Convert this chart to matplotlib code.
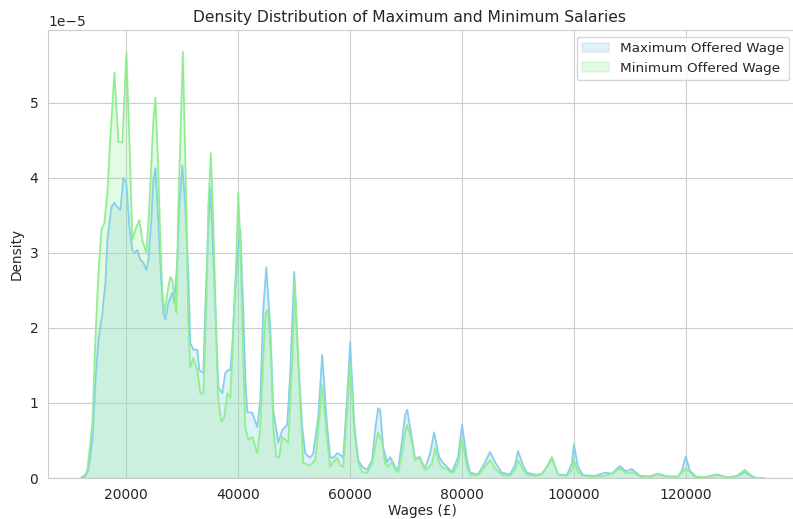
import matplotlib
matplotlib.use("Agg")
import matplotlib.pyplot as plt
import seaborn as sns
import numpy as np

# Estimated density curves (density in units of 1e-5)
max_wage = [12000, 12700, 13214, 13929, 14464, 15000, 15714, 16250, 16607, 17321,
            17857, 18393, 18929, 19464, 20000, 20536, 21071, 21429, 21964, 22500,
            23036, 23571, 23929, 24464, 24821, 25200, 25714, 26250, 26607, 26964,
            27500, 28214, 28571, 29107, 29464, 30000, 30536, 31071, 31429, 31964,
            32679, 33036, 33750, 34107, 34643, 35000, 35357, 35893, 36429, 37143,
            37679, 38214, 38571, 38929, 39286, 39821, 40357, 40893, 41250, 41607,
            42500, 43393, 43929, 44464, 45000, 45714, 46250, 47143, 47857, 48750,
            49286, 50000, 50714, 51429, 51964, 52857, 53393, 54286, 55000, 55893,
            56429, 56964, 57679, 58214, 58750, 59464, 60000, 60714, 61429, 62143,
            63036, 63929, 64464, 65000, 65357, 65893, 66607, 67143, 68036, 68571,
            69286, 69821, 70200, 71071, 71607, 72143, 72857, 73393, 74286, 75000,
            75893, 76607, 77321, 78214, 79286, 80000, 80893, 81429, 82857, 84107,
            85000, 85893, 87143, 88571, 89464, 90000, 90893, 91607, 93393, 94286,
            95179, 96071, 97143, 98750, 99643, 100000, 100714, 101607, 103750, 105536,
            106786, 108214, 109286, 110357, 111786, 113571, 115000, 116786, 118571, 119300,
            120000, 120700, 121800, 123393, 125536, 127500, 129107, 130536, 131786, 132679,
            134000]
max_density = [0.0, 0.03, 0.11, 0.51, 1.27, 1.84, 2.20, 2.60, 3.17, 3.61,
               3.67, 3.61, 3.57, 4.00, 3.93, 3.35, 3.04, 3.00, 3.04, 2.91,
               2.87, 2.77, 2.91, 3.44, 3.97, 4.13, 3.40, 2.60, 2.20, 2.11,
               2.33, 2.47, 2.33, 2.91, 3.61, 4.17, 3.61, 2.73, 1.80, 1.71,
               1.71, 1.44, 1.40, 2.28, 3.35, 3.87, 3.27, 2.28, 1.21, 1.13,
               1.40, 1.44, 1.44, 1.75, 2.28, 2.91, 3.31, 2.24, 1.35, 0.88,
               0.87, 0.68, 1.04, 2.24, 2.81, 2.01, 0.91, 0.47, 0.64, 0.71,
               1.40, 2.75, 1.57, 0.68, 0.33, 0.27, 0.33, 0.81, 1.64, 0.68,
               0.28, 0.27, 0.33, 0.31, 0.27, 1.08, 1.81, 0.73, 0.24, 0.15,
               0.11, 0.24, 0.64, 0.93, 0.91, 0.41, 0.21, 0.28, 0.15, 0.11,
               0.51, 0.84, 0.91, 0.51, 0.24, 0.28, 0.21, 0.13, 0.33, 0.61,
               0.28, 0.20, 0.15, 0.08, 0.28, 0.71, 0.24, 0.07, 0.05, 0.21,
               0.35, 0.21, 0.07, 0.05, 0.17, 0.36, 0.17, 0.07, 0.04, 0.06,
               0.15, 0.27, 0.05, 0.04, 0.20, 0.45, 0.15, 0.04, 0.03, 0.07,
               0.06, 0.16, 0.09, 0.12, 0.03, 0.02, 0.05, 0.02, 0.02, 0.10,
               0.29, 0.10, 0.02, 0.01, 0.05, 0.01, 0.02, 0.08, 0.02, 0.0,
               0.0]

min_wage = [11800, 12700, 13036, 13929, 14464, 15000, 15536, 16071, 16607, 17143,
            17857, 18571, 19286, 20000, 20536, 21071, 21607, 22321, 22857, 23571,
            24107, 24821, 25200, 25714, 26071, 26429, 26786, 27500, 27857, 28214,
            28929, 29286, 29821, 30100, 30714, 31071, 31429, 31964, 32679, 33214,
            33750, 34286, 34643, 35100, 35536, 36071, 36429, 36964, 37500, 38036,
            38571, 38929, 39107, 39643, 40000, 40357, 40893, 41250, 41786, 42500,
            43393, 43929, 44464, 44900, 45300, 45893, 46250, 46786, 47321, 47857,
            48393, 48929, 49643, 50100, 50714, 51429, 51607, 52857, 53750, 54286,
            55000, 55893, 56429, 56964, 57679, 58214, 58750, 59464, 60000, 60714,
            61429, 62143, 63036, 63929, 64464, 65000, 65714, 66250, 66786, 67500,
            68036, 68571, 69286, 69821, 70200, 71071, 71607, 72143, 72500, 72857,
            73393, 73929, 74643, 75200, 75893, 76607, 77321, 77857, 78393, 79286,
            80000, 80893, 81429, 82857, 84107, 85000, 85893, 87143, 88571, 89464,
            90000, 90893, 91607, 93393, 94286, 95179, 96071, 97143, 98750, 99643,
            100000, 100714, 101607, 103750, 105536, 106786, 108214, 109286, 110357, 111786,
            113571, 115000, 116786, 118571, 120000, 121500, 123393, 125536, 127500, 129107,
            130536, 131786, 132679, 134000]
min_density = [0.0, 0.05, 0.11, 0.73, 1.84, 2.73, 3.31, 3.40, 3.80, 4.55,
               5.40, 4.48, 4.47, 5.67, 4.51, 3.17, 3.31, 3.44, 3.17, 3.00,
               3.61, 4.77, 5.07, 4.07, 3.17, 2.47, 2.20, 2.55, 2.68, 2.64,
               2.20, 3.61, 4.95, 5.68, 3.61, 2.07, 1.47, 1.60, 1.44, 1.13,
               1.13, 2.28, 3.61, 4.33, 3.40, 1.84, 1.04, 0.75, 0.81, 1.13,
               1.07, 1.61, 2.01, 2.91, 3.80, 3.13, 1.57, 0.68, 0.51, 0.55,
               0.33, 0.68, 1.57, 2.20, 2.24, 1.57, 0.68, 0.28, 0.28, 0.55,
               0.51, 0.47, 1.57, 2.60, 1.57, 0.47, 0.20, 0.17, 0.24, 0.64,
               1.24, 0.51, 0.15, 0.21, 0.27, 0.17, 0.15, 0.87, 1.53, 0.64,
               0.20, 0.08, 0.07, 0.20, 0.41, 0.61, 0.47, 0.20, 0.15, 0.21,
               0.11, 0.08, 0.33, 0.60, 0.71, 0.47, 0.24, 0.27, 0.28, 0.20,
               0.11, 0.13, 0.20, 0.40, 0.20, 0.13, 0.13, 0.08, 0.07, 0.20,
               0.51, 0.15, 0.04, 0.04, 0.15, 0.24, 0.13, 0.04, 0.03, 0.11,
               0.24, 0.11, 0.04, 0.03, 0.05, 0.15, 0.28, 0.04, 0.03, 0.11,
               0.24, 0.08, 0.03, 0.02, 0.03, 0.06, 0.13, 0.06, 0.08, 0.02,
               0.02, 0.06, 0.02, 0.02, 0.13, 0.02, 0.01, 0.04, 0.01, 0.03,
               0.11, 0.03, 0.0, 0.0]

x_ticks = [20000, 40000, 60000, 80000, 100000, 120000]
y_ticks = [0, 1, 2, 3, 4, 5]

sns.set_style("whitegrid")

fig = plt.figure(figsize=(7.93, 5.19), dpi=100)
ax = fig.add_axes([48 / 793, 41 / 519, 748 / 793, 448 / 519])

scale = 1e-5
series = [
    ("Maximum Offered Wage", max_wage, max_density, "skyblue"),
    ("Minimum Offered Wage", min_wage, min_density, "lightgreen"),
]
for label, xs, ys, color in series:
    x = np.asarray(xs, dtype=float)
    y = np.asarray(ys, dtype=float) * scale
    ax.fill_between(x, y, 0, facecolor=color, alpha=0.25, edgecolor=color,
                    linewidth=1.2, label=label)
    ax.plot(x, y, color=color, linewidth=1.2)

ax.set_xlim(6000, 139700)
ax.set_ylim(0, 5.97e-5)
ax.set_xticks(x_ticks)
ax.set_yticks([v * scale for v in y_ticks])
ax.ticklabel_format(axis="y", style="sci", scilimits=(0, 0))
ax.tick_params(labelsize=10)
ax.yaxis.get_offset_text().set_fontsize(10)

ax.set_title("Density Distribution of Maximum and Minimum Salaries", fontsize=11.2, x=0.483)
ax.set_xlabel("Wages (£)", fontsize=9.8, labelpad=2)
ax.set_ylabel("Density", fontsize=9.8)

handles, labels = ax.get_legend_handles_labels()
ax.legend(handles, labels, loc="upper right", fontsize=9.7)

fig.savefig("out.png", dpi=100)
